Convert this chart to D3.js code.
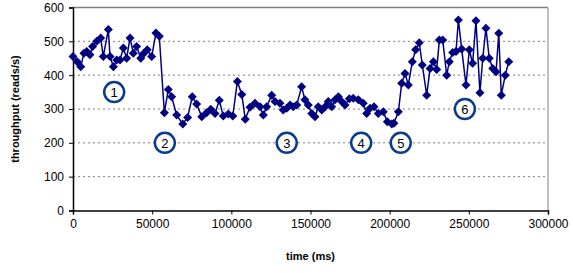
<!DOCTYPE html>
<html>
<head>
<style>
  body { margin: 0; background: #fff; }
  svg { font-family: "Liberation Sans", Arial, sans-serif; }
</style>
</head>
<body>
<svg width="573" height="273"></svg>
<script src="https://d3js.org/d3.v7.min.js"></script>
<script>
// time (ms) of each sample
var times = [0, 2700, 4900, 6900, 8700, 10700, 12400, 15000, 17500, 19100, 22300, 23400, 25500, 27600,
  29700, 31800, 33900, 36000, 38100, 40200, 42800, 44800, 46900, 49700, 52400, 54500,
  57700, 60200, 62300, 65500, 69300, 72400, 75300, 78100, 81300, 84400, 87000, 89700, 92400,
  94900, 98100, 100900, 103800, 106600, 108800, 111800, 114900, 118100, 120200, 122300, 125500,
  127600, 130700, 132800, 135000, 137100, 139100, 141300, 144400, 146500, 148600, 150800, 152800,
  154900, 157100, 159200, 161200, 163400, 165500, 167600, 169700, 171800, 174500, 177000, 180200,
  183300, 185500, 187600, 190100, 192800, 196000, 198500, 201300, 202700, 205500, 207600, 209700,
  211800, 214300, 216400, 218700, 220600, 223400, 225500, 227600, 229700, 231400, 233500, 236000,
  237700, 239800, 241900, 243400, 245500, 248200, 250300, 252400, 254500, 257000, 258800, 260800,
  262900, 265100, 267200, 268900, 270500, 273000, 275200];
// throughput (reads/s)
var throughput = [455, 440, 425, 465, 470, 460, 485, 500, 510, 455, 535, 455, 425, 445,
  445, 480, 450, 510, 465, 485, 450, 465, 475, 455, 525, 515,
  289, 358, 336, 282, 256, 275, 336, 315, 277, 289, 299, 287, 326,
  279, 285, 279, 381, 343, 270, 305, 317, 307, 282, 307, 341,
  322, 317, 297, 302, 312, 307, 312, 366, 327, 312, 287, 277,
  307, 297, 307, 322, 307, 327, 336, 322, 312, 330, 332, 327,
  317, 287, 302, 307, 287, 292, 262, 256, 258, 292, 376, 405,
  371, 440, 475, 496, 430, 341, 420, 440, 417, 504, 504, 400,
  440, 467, 470, 563, 477, 371, 475, 435, 561, 348, 450, 539,
  450, 420, 410, 524, 341, 400, 440];

var xTicks = [0, 50000, 100000, 150000, 200000, 250000, 300000];
var yTicks = [0, 100, 200, 300, 400, 500, 600];

// numbered phase markers
var phaseLabels = ["1", "2", "3", "4", "5", "6"];
var phaseTimes = [26000, 58000, 135000, 182000, 207000, 247500];
var phaseValues = [350, 200, 200, 200, 200, 300];

var svg = d3.select("svg"),
    margin = { top: 7.5, right: 25, bottom: 62.5, left: 73 },
    width = 573 - margin.left - margin.right,
    height = 273 - margin.top - margin.bottom,
    g = svg.append("g").attr("transform", "translate(" + margin.left + "," + margin.top + ")");

var x = d3.scaleLinear().domain([0, 300000]).range([0, width]);
var y = d3.scaleLinear().domain([0, 600]).range([height, 0]);

// grid
g.selectAll(".grid").data(yTicks.slice(1, -1)).enter().append("line")
    .attr("x1", 0).attr("x2", width)
    .attr("y1", function (d) { return y(d); }).attr("y2", function (d) { return y(d); })
    .attr("stroke", "#808080").attr("stroke-dasharray", "2,3");

// frame top/right
g.append("line").attr("x1", 0).attr("x2", width).attr("y1", 0).attr("y2", 0)
    .attr("stroke", "#808080").attr("stroke-width", 1.5);
g.append("line").attr("x1", width).attr("x2", width).attr("y1", 0).attr("y2", height)
    .attr("stroke", "#808080");

var xAxis = g.append("g")
    .attr("transform", "translate(0," + height + ")")
    .call(d3.axisBottom(x).tickValues(xTicks).tickSize(4).tickPadding(5).tickFormat(d3.format("d")));
var yAxis = g.append("g")
    .call(d3.axisLeft(y).tickValues(yTicks).tickSize(4).tickPadding(5));

[xAxis, yAxis].forEach(function (a) {
    a.selectAll("text").attr("font-size", 12).attr("fill", "#000")
        .attr("font-family", "Liberation Sans, Arial, sans-serif");
    a.select(".domain").attr("stroke", "#000").attr("stroke-width", 1.5);
    a.selectAll(".tick line").attr("stroke", "#000");
});

var data = times.map(function (t, i) { return { t: t, v: throughput[i] }; });

var line = d3.line()
    .x(function (d) { return x(d.t); })
    .y(function (d) { return y(d.v); });

g.append("path")
    .datum(data)
    .attr("fill", "none")
    .attr("stroke", "#000080")
    .attr("stroke-width", 1.5)
    .attr("d", line);

g.selectAll(".pt").data(data).enter().append("path")
    .attr("transform", function (d) { return "translate(" + x(d.t) + "," + y(d.v) + ")"; })
    .attr("d", "M0,-4.5L4.5,0L0,4.5L-4.5,0Z")
    .attr("fill", "#000080");

// phase markers
var ph = g.selectAll(".phase").data(phaseLabels).enter().append("g")
    .attr("transform", function (d, i) { return "translate(" + x(phaseTimes[i]) + "," + y(phaseValues[i]) + ")"; });
ph.append("circle").attr("r", 10).attr("fill", "#fff")
    .attr("stroke", "#0a3c8e").attr("stroke-width", 2.5);
ph.append("text").attr("text-anchor", "middle").attr("dy", "0.36em")
    .attr("font-size", 13).attr("fill", "#000")
    .text(function (d) { return d; });

// axis titles
svg.append("text")
    .attr("x", margin.left + width / 2).attr("y", 260)
    .attr("text-anchor", "middle").attr("font-size", 11).attr("font-weight", "bold")
    .text("time (ms)");
svg.append("text")
    .attr("transform", "translate(19," + (margin.top + height / 2) + ") rotate(-90)")
    .attr("text-anchor", "middle").attr("font-size", 11).attr("font-weight", "bold")
    .text("throughput (reads/s)");
</script>
</body>
</html>
